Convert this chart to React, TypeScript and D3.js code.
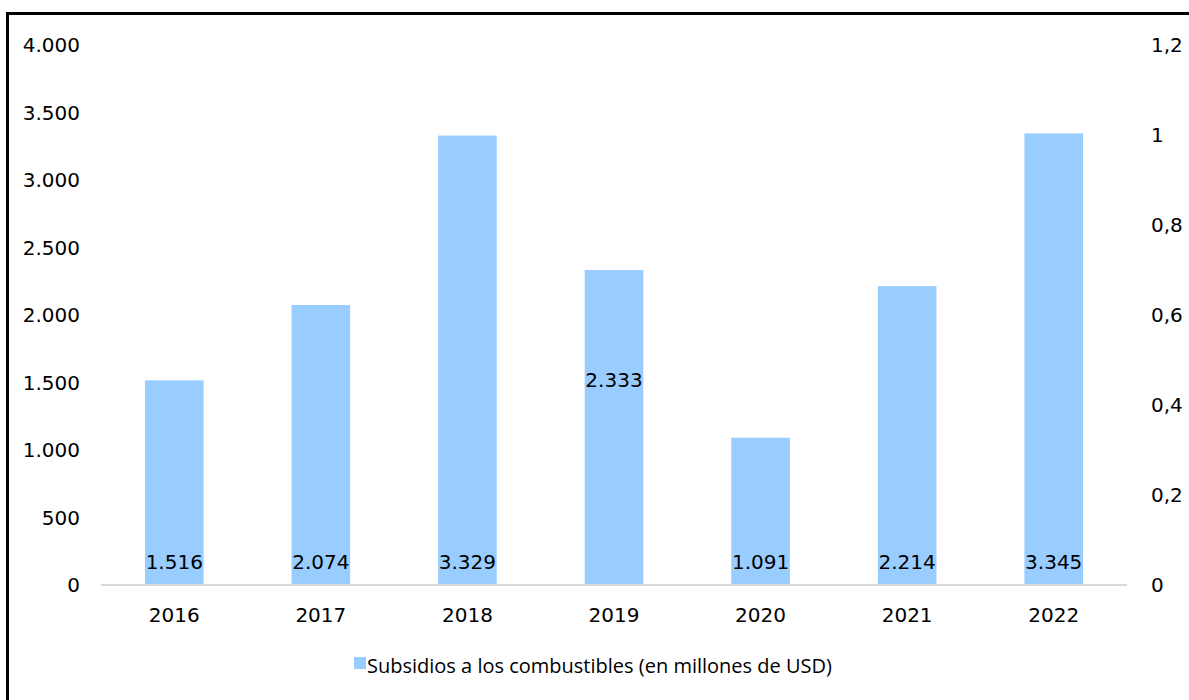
import { useEffect, useRef } from 'react';
import * as d3 from 'd3';

const years = ['2016', '2017', '2018', '2019', '2020', '2021', '2022'];
const subsidies = [1516, 2074, 3329, 2333, 1091, 2214, 3345];
// where the label sits on each bar: null = at the base, otherwise fraction of bar height
const labelFraction: (number | null)[] = [null, null, null, 0.65, null, null, null];
const leftTicks = [0, 500, 1000, 1500, 2000, 2500, 3000, 3500, 4000];
const rightTicks = [0, 0.2, 0.4, 0.6, 0.8, 1, 1.2];
const seriesName = 'Subsidios a los combustibles (en millones de USD)';

const W = 1189;
const H = 700;
const numFont = '"DejaVu Sans", sans-serif';

const fmtThousands = (v: number) => d3.format(',')(v).replace(/,/g, '.');
const fmtDecimal = (v: number) => String(v).replace('.', ',');

const App = () => {
  const svgRef = useRef<SVGSVGElement>(null);

  useEffect(() => {
    if (!svgRef.current) return;
    const svg = d3.select(svgRef.current);
    svg.selectAll('*').remove();

    const x = d3.scaleBand<string>().domain(years).range([101, 1127]).paddingInner(0.6).paddingOuter(0.3);
    const y = d3.scaleLinear().domain([0, 4000]).range([585, 45]);
    const y2 = d3.scaleLinear().domain([0, 1.2]).range([585, 45]);

    // outer frame
    svg.append('rect')
      .attr('x', 7.5).attr('y', 13.5)
      .attr('width', W).attr('height', H)
      .attr('fill', 'white')
      .attr('stroke', '#000').attr('stroke-width', 3);

    // bars
    svg.selectAll('rect.bar')
      .data(subsidies)
      .enter()
      .append('rect')
      .attr('class', 'bar')
      .attr('x', (_, i) => x(years[i])!)
      .attr('width', x.bandwidth())
      .attr('y', d => y(d))
      .attr('height', d => y(0) - y(d))
      .attr('fill', '#99ccff');

    // baseline
    svg.append('line')
      .attr('x1', 101).attr('x2', 1127)
      .attr('y1', y(0)).attr('y2', y(0))
      .attr('stroke', '#d9d9d9').attr('stroke-width', 2);

    // data labels
    svg.selectAll('text.lbl')
      .data(subsidies)
      .enter()
      .append('text')
      .attr('class', 'lbl')
      .attr('x', (_, i) => x(years[i])! + x.bandwidth() / 2)
      .attr('y', (d, i) => {
        const f = labelFraction[i];
        return f === null ? y(0) - 23 : y(d * f);
      })
      .attr('dy', '0.35em')
      .attr('text-anchor', 'middle')
      .attr('font-family', numFont)
      .attr('font-size', 20)
      .attr('fill', '#000')
      .text(d => fmtThousands(d));

    // left axis labels
    svg.selectAll('text.yl')
      .data(leftTicks)
      .enter()
      .append('text')
      .attr('class', 'yl')
      .attr('x', 80)
      .attr('y', d => y(d))
      .attr('dy', '0.35em')
      .attr('text-anchor', 'end')
      .attr('font-family', numFont)
      .attr('font-size', 20)
      .text(d => fmtThousands(d));

    // right axis labels
    svg.selectAll('text.y2l')
      .data(rightTicks)
      .enter()
      .append('text')
      .attr('class', 'y2l')
      .attr('x', 1151)
      .attr('y', d => y2(d))
      .attr('dy', '0.35em')
      .attr('text-anchor', 'start')
      .attr('font-family', numFont)
      .attr('font-size', 20)
      .text(d => fmtDecimal(d));

    // category labels
    svg.selectAll('text.xl')
      .data(years)
      .enter()
      .append('text')
      .attr('class', 'xl')
      .attr('x', d => x(d)! + x.bandwidth() / 2)
      .attr('y', 615)
      .attr('dy', '0.35em')
      .attr('text-anchor', 'middle')
      .attr('font-family', numFont)
      .attr('font-size', 20)
      .text(d => d);

    // legend
    const legend = svg.append('g').attr('transform', 'translate(354,667)');
    legend.append('rect')
      .attr('x', 0).attr('y', -10)
      .attr('width', 12).attr('height', 12)
      .attr('fill', '#99ccff');
    legend.append('text')
      .attr('x', 13).attr('y', 0)
      .attr('dy', '0.3em')
      .attr('font-family', '"Open Sans", sans-serif')
      .attr('font-size', 20)
      .text(seriesName);
  }, []);

  return (
    <svg
      ref={svgRef}
      width={W}
      height={H}
      style={{ position: 'absolute', left: 0, top: 0, background: 'white' }}
    />
  );
};

export default App;
